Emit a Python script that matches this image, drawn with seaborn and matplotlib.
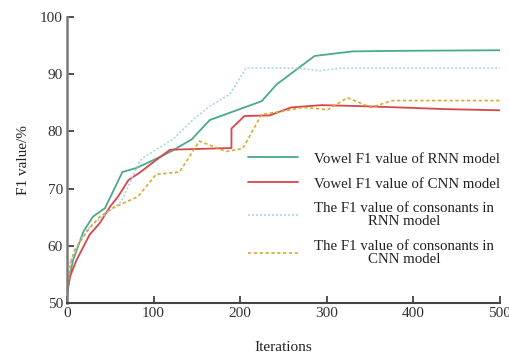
import matplotlib
matplotlib.use("Agg")
import matplotlib.pyplot as plt
import seaborn as sns
import pandas as pd

# Training curves: F1 (%) against iteration count
rnn_vowel_x = [0, 3, 7, 19, 30, 44, 64, 80, 100, 120, 144, 165, 225, 242, 286, 330, 384, 500]
rnn_vowel_y = [51.0, 54.5, 57.5, 62.5, 65.1, 66.6, 72.9, 73.6, 75.0, 76.5, 78.6, 82.0, 85.3, 88.2, 93.2, 94.0, 94.1, 94.2]

cnn_vowel_x = [0, 4, 11, 26, 38, 50, 59, 71, 84, 96, 119, 190, 190, 205, 234, 259, 294, 346, 438, 500]
cnn_vowel_y = [52.0, 54.8, 57.5, 61.9, 64.0, 66.9, 68.6, 71.5, 72.8, 74.2, 76.8, 77.1, 80.5, 82.7, 82.8, 84.2, 84.6, 84.4, 83.9, 83.7]

rnn_cons_x = [0, 3.5, 12, 23, 40, 63, 84, 88, 123, 146, 165, 188, 207, 269, 292, 315, 500]
rnn_cons_y = [52.0, 57.0, 60.0, 62.8, 65.0, 67.8, 74.8, 75.4, 78.7, 82.1, 84.4, 86.5, 91.1, 91.05, 90.6, 91.05, 91.05]

cnn_cons_x = [0, 5, 9, 26, 38, 53, 82, 103, 130, 153, 184, 203, 225, 240, 273, 301, 324, 351, 376, 500]
cnn_cons_y = [52.0, 57.5, 59.3, 63.1, 65.1, 66.6, 68.6, 72.5, 72.9, 78.3, 76.5, 77.0, 83.0, 83.3, 84.2, 83.8, 85.9, 84.2, 85.4, 85.4]

labels = [
    "Vowel F1 value of RNN model",
    "Vowel F1 value of CNN model",
    "The F1 value of consonants in\nRNN model",
    "The F1 value of consonants in\nCNN model",
]
x_ticks = [0, 100, 200, 300, 400, 500]
y_ticks = [50, 60, 70, 80, 90, 100]

sns.set_theme(style="white")
plt.rcParams["font.family"] = ["Liberation Serif", "DejaVu Serif"]

fig = plt.figure(figsize=(5.09, 3.56), dpi=100)
ax = fig.add_axes([0.1316, 0.149, 0.8504, 0.803])

series = [
    (rnn_vowel_x, rnn_vowel_y, "#4aa98a", "-", 1.3),
    (cnn_vowel_x, cnn_vowel_y, "#d8454b", "-", 1.3),
    (rnn_cons_x, rnn_cons_y, "#a9d4f0", (0, (1.2, 1.2)), 1.2),
    (cnn_cons_x, cnn_cons_y, "#d7ab32", (0, (2, 1.5)), 1.2),
]
for (xs, ys, color, ls, lw), label in zip(series, labels):
    df = pd.DataFrame({"Iterations": xs, "F1": ys})
    sns.lineplot(data=df, x="Iterations", y="F1", ax=ax, color=color,
                 linestyle=ls, linewidth=lw, sort=False, label=label,
                 estimator=None)

ax.set_xlim(0, 500)
ax.set_ylim(50, 100)
ax.set_xticks(x_ticks)
ax.set_yticks(y_ticks)
ax.tick_params(axis="both", direction="in", length=5, width=1.2,
               colors="#333333", labelsize=11, pad=3, left=True, bottom=True)
for s in ["top", "right"]:
    ax.spines[s].set_visible(False)
ax.spines["left"].set_color("#7a7a7a")
ax.spines["left"].set_linewidth(1.8)
ax.spines["bottom"].set_color("#444444")
ax.spines["bottom"].set_linewidth(1.5)

ax.set_xlabel("Iterations", fontsize=11, color="#222222", labelpad=15)
ax.set_ylabel("F1 value/%", fontsize=11, color="#222222", labelpad=7)

leg = ax.legend(loc="upper left", bbox_to_anchor=(0.405, 0.548), frameon=False,
                fontsize=10.7, handlelength=3.35, handletextpad=1.1,
                labelspacing=0.78, borderaxespad=0)
for t in leg.get_texts():
    t.set_multialignment("center")
    t.set_linespacing(1.0)
    t.set_color("#222222")

fig.savefig("out.png", dpi=100)
